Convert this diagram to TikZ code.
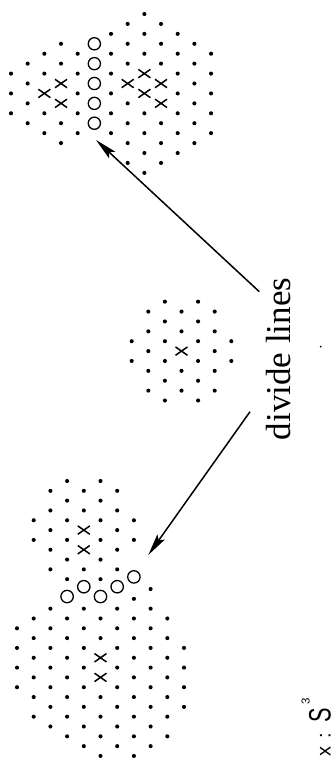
\documentclass[tikz,border=0pt]{standalone}
\usepackage{fontspec}
\usepackage{graphicx}
\setmainfont{Liberation Serif}
\newfontfamily\legendfont{Liberation Sans}
\usetikzlibrary{arrows.meta}
\begin{document}
\begin{tikzpicture}[x=1pt,y=1pt,
  ringsty/.style={draw=black,line width=1.3pt},
  xsty/.style={draw=black,line width=1.5pt},
  arrowsty/.style={draw=black,line width=1.5pt,-{Stealth[length=22pt,width=9pt,inset=4pt]}},
  xm/.pic={\draw[xsty] (-6,-4.2)--(6,4.2) (-6,4.2)--(6,-4.2);}
]
\useasboundingbox (0,0) rectangle (336,761);
% ---------- top cluster ----------
\foreach \k/\js in {0/{6,8,10},1/{5,7,9,11},2/{4,6,10,12},3/{3,5,11,13},4/{4,6,8,10,12},6/{2,4,6,8,10,12},7/{1,3,5,9,11,13,15},8/{0,2,4,10,12,14,16},9/{1,3,5,11,13,15},10/{2,4,6,8,10,12,14},11/{3,5,7,9,11,13},12/{4,6,8,10,12}}
  {\foreach \j in \js {\fill (11+16.67*\k,747-9.93*\j) circle (2.05);}}
\foreach \k/\j in {2/8,3/7,3/9,7/7,8/6,8/8,9/7,9/9}
  {\pic at (11+16.67*\k,747-9.93*\j) {xm};}
\foreach \j in {3,5,7,9,11}
  {\draw[ringsty] (11+16.67*5,747-9.93*\j) circle (6.1);}
% ---------- middle cluster ----------
\foreach \k/\js in {0/{4,6},1/{1,3,5,7,9},2/{0,2,4,6,8,10},3/{1,3,7,9},4/{0,2,4,6,8,10},5/{1,3,5,7,9},6/{4,6}}
  {\foreach \j in \js {\fill (131.7+16.6*\k,459.3-9.88*\j) circle (2.05);}}
\pic at (131.7+16.6*3,459.3-9.88*5) {xm};
% ---------- bottom cluster ----------
\foreach \k/\js in {0/{15,17,19,21},1/{4,6,14,16,18,20,22,24},2/{1,3,5,7,9,13,15,17,19,21,23,25},3/{0,2,4,6,8,10,14,16,18,20,22,24,26},4/{1,3,9,13,15,17,19,21,23,25,27},5/{0,2,4,6,8,10,14,16,22,24,26,28},6/{1,3,5,7,9,13,15,17,19,21,23,25,27},7/{4,6,12,14,16,18,20,22,24,26,28},8/{11,13,15,17,19,21,23,25,27},9/{14,16,18,20,22,24,26},10/{17,19,21,23}}
  {\foreach \j in \js {\fill (17+16.7*\k,280-9.82*\j) circle (2.05);}}
\foreach \k/\j in {4/5,4/7,5/18,5/20}
  {\pic at (17+16.7*\k,280-9.82*\j) {xm};}
\foreach \k/\j in {3/12,4/11,5/12,6/11,7/10}
  {\draw[ringsty] (17+16.7*\k,282.3-9.82*\j) circle (6.2);}
% ---------- label and arrows ----------
\node[rotate=90, anchor=base, inner sep=0, font=\fontsize{35}{35}\selectfont] (lbl) at (290,402) {divide lines};
\coordinate (u1) at (259.3,469.3);
\coordinate (u2) at (96,621);
\coordinate (l1) at (250,349.3);
\coordinate (l2) at (148.3,206);
\draw[arrowsty] (u1) -- (u2);
\draw[arrowsty] (l1) -- (l2);
\fill (320.7,414.3) circle (1.0);
% ---------- legend ----------
\node[rotate=90, anchor=base west, inner sep=0] (leg) at (330.5,4)
  {\legendfont\fontsize{20}{20}\selectfont x\hspace{8pt}:\hspace{11pt}\scalebox{0.7}[1]{\fontsize{31}{31}\selectfont S}\hspace{3pt}\raisebox{21pt}{\fontsize{11.5}{11.5}\selectfont 3}};
\end{tikzpicture}
\end{document}
